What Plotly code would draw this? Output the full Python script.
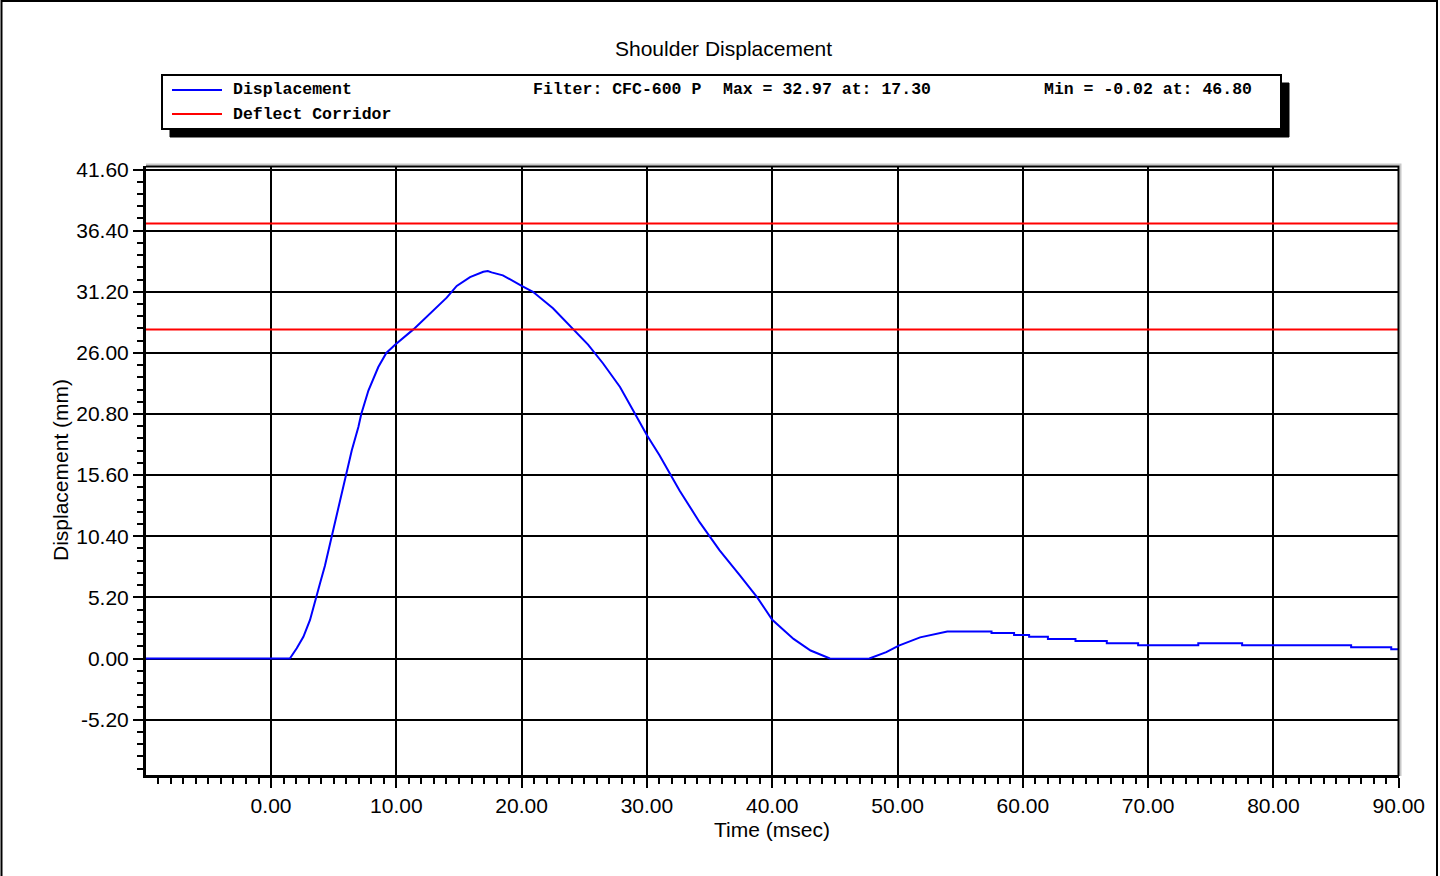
import plotly.graph_objects as go

# ---------------- data ----------------
time_ms = [-10, 1.5, 2.05, 2.58, 3.11, 3.64, 3.91, 4.3, 4.84, 5.24, 6.0, 6.44, 6.97, 7.2, 7.77,
           8.56, 9.2, 9.9, 11.36, 12.16, 13.2, 14.02, 14.82, 15.88, 16.94, 17.3, 17.6, 18.5,
           20.0, 20.9, 22.5, 24.1, 25.3, 26.5, 27.85, 28.9, 30.0, 31.0, 32.6, 34.2, 35.8,
           37.4, 38.8, 40.0, 41.7, 43.06, 44.6, 46.8, 47.75, 49.1, 50.1, 51.8, 52.97, 53.97,
           57.5, 57.5, 59.3, 59.3, 60.5, 60.5, 62.0, 62.0, 64.2, 64.2, 66.7, 66.7, 69.2, 69.2,
           74.0, 74.0, 77.5, 77.5, 86.2, 86.2, 89.4, 89.4, 90.0]
displacement_mm = [0, 0, 0.87, 1.85, 3.28, 5.2, 6.4, 7.9, 10.4, 12.3, 15.6, 17.7, 19.7, 20.8, 22.8,
                   24.8, 26.0, 26.7, 28.0, 28.8, 29.8, 30.7, 31.7, 32.45, 32.9, 32.97, 32.85, 32.6,
                   31.7, 31.2, 29.8, 28.0, 26.7, 25.1, 23.1, 21.1, 19.0, 17.3, 14.3, 11.6, 9.2,
                   7.1, 5.2, 3.3, 1.67, 0.68, 0.0, -0.02, 0.0, 0.54, 1.1, 1.8, 2.1, 2.3,
                   2.3, 2.18, 2.18, 2.0, 2.0, 1.85, 1.85, 1.65, 1.65, 1.48, 1.48, 1.3, 1.3, 1.13,
                   1.13, 1.3, 1.3, 1.13, 1.13, 0.96, 0.96, 0.79, 0.79]

corridor_levels = [28.0, 37.0]
corridor_span = [-10, 90]

x_tick_values = [0, 10, 20, 30, 40, 50, 60, 70, 80, 90]
y_tick_values = [-5.2, 0.0, 5.2, 10.4, 15.6, 20.8, 26.0, 31.2, 36.4, 41.6]

title_text = "Shoulder Displacement"
x_title = "Time (msec)"
y_title = "Displacement (mm)"
legend_names = ["Displacement", "Deflect Corridor"]
stats_filter = "Filter: CFC-600 P"
stats_max = "Max = 32.97 at: 17.30"
stats_min = "Min = -0.02 at: 46.80"

# ---------------- layout helpers ----------------
W, H = 1440, 876
L, R, T, B = 146, 41, 166, 101
PW, PH = W - L - R, H - T - B


def px(xp):
    return (xp - L) / PW


def py(yp):
    return (H - B - yp) / PH


fig = go.Figure()

fig.add_trace(go.Scatter(x=time_ms, y=displacement_mm, mode="lines",
                         line=dict(color="#0000ff", width=2), name=legend_names[0],
                         showlegend=False, hoverinfo="x+y"))

cx, cy = [], []
for lvl in corridor_levels:
    cx += corridor_span + [None]
    cy += [lvl, lvl, None]
fig.add_trace(go.Scatter(x=cx, y=cy, mode="lines", line=dict(color="#ff0000", width=2),
                         name=legend_names[1], showlegend=False))

tickfont = dict(family="Liberation Sans, Arial", size=21, color="black")

fig.update_xaxes(range=[-9.98, 90.02], tickmode="array", tickvals=x_tick_values,
                 ticktext=[f"{v:.2f}" for v in x_tick_values],
                 showgrid=True, gridcolor="black", gridwidth=2, zeroline=False,
                 showline=True, linecolor="black", linewidth=3,
                 ticks="outside", ticklen=10, tickwidth=2, tickcolor="black",
                 tickfont=tickfont,
                 minor=dict(dtick=1, tick0=0, ticks="outside", ticklen=6, tickwidth=2,
                            tickcolor="black", showgrid=False))
fig.update_yaxes(range=[-9.91, 41.90], tickmode="array", tickvals=y_tick_values,
                 ticktext=[f"{v:.2f}" for v in y_tick_values],
                 showgrid=True, gridcolor="black", gridwidth=2, zeroline=False,
                 showline=True, linecolor="black", linewidth=3,
                 ticks="outside", ticklen=10, tickwidth=2, tickcolor="black",
                 tickfont=tickfont,
                 minor=dict(dtick=1.04, tick0=0, ticks="outside", ticklen=6, tickwidth=2,
                            tickcolor="black", showgrid=False))

shapes = []
# outer frame (left, top, right)
shapes.append(dict(type="path", xref="paper", yref="paper",
                   path=f"M {px(1.5)},{py(H + 5)} L {px(1.5)},{py(1)} L {px(1437)},{py(1)} L {px(1437)},{py(H + 5)}",
                   line=dict(color="black", width=2)))
# plot frame shadow + top/right border
shapes.append(dict(type="path", xref="paper", yref="paper",
                   path=f"M {px(146)},{py(164.5)} L {px(1400.5)},{py(164.5)} L {px(1400.5)},{py(776)}",
                   line=dict(color="#c8c8c8", width=2)))
shapes.append(dict(type="path", xref="paper", yref="paper",
                   path=f"M {px(146)},{py(166.5)} L {px(1398.5)},{py(166.5)} L {px(1398.5)},{py(776)}",
                   line=dict(color="black", width=2)))
# legend box with shadow
shapes.append(dict(type="rect", xref="paper", yref="paper",
                   x0=px(170), x1=px(1289), y0=py(137), y1=py(83),
                   fillcolor="black", line=dict(color="black", width=1)))
shapes.append(dict(type="rect", xref="paper", yref="paper",
                   x0=px(162), x1=px(1281), y0=py(129), y1=py(75),
                   fillcolor="white", line=dict(color="black", width=2)))
shapes.append(dict(type="line", xref="paper", yref="paper",
                   x0=px(172), x1=px(222), y0=py(90), y1=py(90),
                   line=dict(color="#0000ff", width=2)))
shapes.append(dict(type="line", xref="paper", yref="paper",
                   x0=px(172), x1=px(222), y0=py(114), y1=py(114),
                   line=dict(color="#ff0000", width=2)))

mono = dict(family="Liberation Mono, Courier New, monospace", size=16.5, color="black")
annotations = []


def ann(text, x, y, font, xanchor="left", yanchor="middle", angle=0):
    annotations.append(dict(text=text, xref="paper", yref="paper", x=px(x), y=py(y),
                            xanchor=xanchor, yanchor=yanchor, showarrow=False,
                            font=font, textangle=angle))


ann(f"<b>{legend_names[0]}</b>", 231, 90, mono)
ann(f"<b>{legend_names[1]}</b>", 231, 114, mono)
ann(f"<b>{stats_filter}</b>", 531, 90, mono)
ann(f"<b>{stats_max}</b>", 721, 90, mono)
ann(f"<b>{stats_min}</b>", 1042, 90, mono)

lab = dict(family="Liberation Sans, Arial", size=21, color="black")
ann(title_text, 723, 48, lab, xanchor="center")
ann(x_title, 772, 829, lab, xanchor="center")
ann(y_title, 61, 470, lab, xanchor="center", angle=-90)

fig.update_layout(width=W, height=H, margin=dict(l=L, r=R, t=T, b=B, pad=0),
                  paper_bgcolor="white", plot_bgcolor="white",
                  shapes=shapes, annotations=annotations, showlegend=False)

fig.write_html("out.html", config={"displayModeBar": False},
               post_script="document.body.style.margin='0';document.body.style.padding='0';")
